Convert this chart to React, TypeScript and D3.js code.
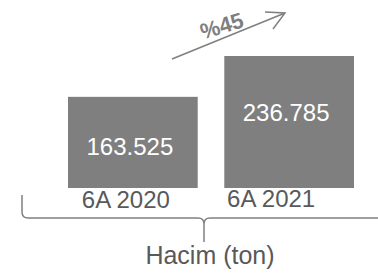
import { useEffect, useRef } from "react";
import * as d3 from "d3";

const categories = ["6A 2020", "6A 2021"];
const volumes = [163525, 236785];
const valueLabels = ["163.525", "236.785"];
const growthLabel = "%45";
const axisTitle = "Hacim (ton)";

export default function App() {
  const svgRef = useRef<SVGSVGElement | null>(null);

  useEffect(() => {
    if (!svgRef.current) return;
    const svg = d3.select(svgRef.current);
    svg.selectAll("*").remove();

    const font = "'Liberation Sans', Arial, sans-serif";
    const data = categories.map((c, i) => ({ cat: c, v: volumes[i], label: valueLabels[i] }));

    const x = d3.scaleBand().domain(categories).range([68, 354]).paddingInner(0.17).paddingOuter(0);
    const y = d3.scaleLinear().domain([0, d3.max(volumes) as number]).range([188, 56]);

    // bars
    svg.selectAll(".bar")
      .data(data)
      .enter()
      .append("rect")
      .attr("x", (d) => x(d.cat) || 0)
      .attr("y", (d) => y(d.v))
      .attr("width", x.bandwidth())
      .attr("height", (d) => y(0) - y(d.v))
      .attr("fill", "#7f7f7f");

    // value labels
    svg.selectAll(".val")
      .data(data)
      .enter()
      .append("text")
      .attr("x", (d) => (x(d.cat) || 0) + x.bandwidth() / 2 - 3)
      .attr("y", (d) => 0.85 * y(d.v) + 73)
      .attr("text-anchor", "middle")
      .attr("font-family", font)
      .attr("font-size", "24px")
      .attr("fill", "#ffffff")
      .text((d) => d.label);

    // category labels
    svg.selectAll(".cat")
      .data(data)
      .enter()
      .append("text")
      .attr("x", (d, i) => (x(d.cat) || 0) + x.bandwidth() / 2 + (i === 0 ? -7 : -18))
      .attr("y", (d, i) => 208 - i)
      .attr("text-anchor", "middle")
      .attr("font-family", font)
      .attr("font-size", "24px")
      .attr("fill", "#595959")
      .text((d) => d.cat);

    // brace
    const brace = d3.path();
    brace.moveTo(22, 195);
    brace.lineTo(22, 212);
    brace.quadraticCurveTo(22, 218, 28, 218);
    brace.lineTo(198, 218);
    brace.quadraticCurveTo(204, 218, 204, 224);
    brace.lineTo(204, 242);
    brace.moveTo(204, 224);
    brace.quadraticCurveTo(204, 218, 210, 218);
    brace.lineTo(380, 218);
    svg.append("path")
      .attr("d", brace.toString())
      .attr("fill", "none")
      .attr("stroke", "#808080")
      .attr("stroke-width", 1.5);

    svg.append("text")
      .attr("x", 210)
      .attr("y", 264)
      .attr("text-anchor", "middle")
      .attr("font-family", font)
      .attr("font-size", "25px")
      .attr("fill", "#595959")
      .text(axisTitle);

    // growth arrow
    const arrow = d3.path();
    arrow.moveTo(172, 59);
    arrow.lineTo(285, 13);
    arrow.moveTo(265, 12);
    arrow.lineTo(285, 13);
    arrow.lineTo(273, 29);
    svg.append("path")
      .attr("d", arrow.toString())
      .attr("fill", "none")
      .attr("stroke", "#7f7f7f")
      .attr("stroke-width", 1.5);

    svg.append("text")
      .attr("transform", "translate(224,33) rotate(-17)")
      .attr("text-anchor", "middle")
      .attr("font-family", font)
      .attr("font-size", "22px")
      .attr("font-weight", "bold")
      .attr("fill", "#7f7f7f")
      .text(growthLabel);
  }, []);

  return (
    <svg
      ref={svgRef}
      width={378}
      height={273}
      style={{ position: "absolute", left: 0, top: 0, background: "#fff" }}
    />
  );
}
